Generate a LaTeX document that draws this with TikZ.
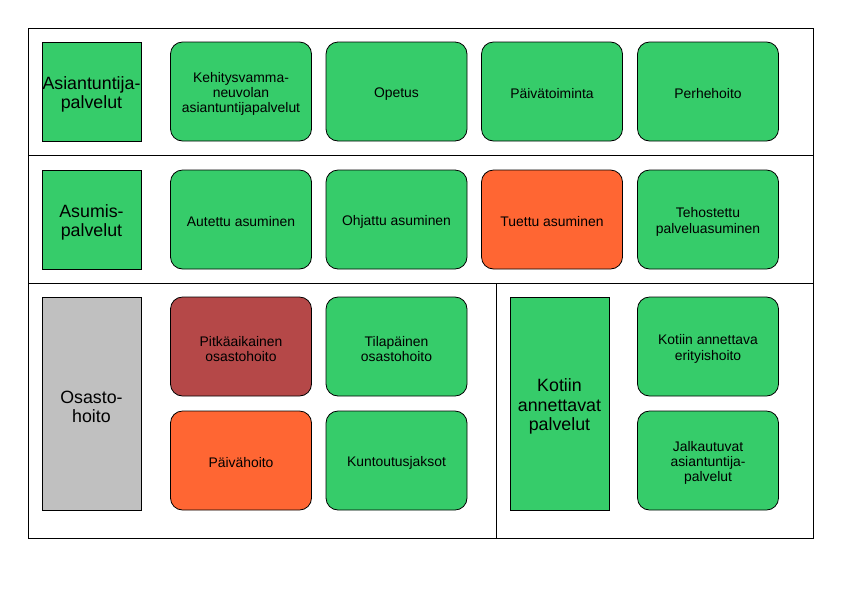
\documentclass[tikz,border=0pt]{standalone}
\usepackage{fontspec}
\setmainfont{Liberation Sans}
\definecolor{grn}{RGB}{54,204,106}
\definecolor{org}{RGB}{255,102,51}
\definecolor{drd}{RGB}{181,72,72}
\definecolor{gry}{RGB}{192,192,192}
\begin{document}
\begin{tikzpicture}[x=1pt,y=-1pt,
  frame/.style={draw=black,line width=0.9pt},
  head/.style={draw=black,line width=0.8pt,fill=grn,rectangle,inner sep=0pt,align=center,
     font=\fontsize{17.8}{19.5}\selectfont,minimum width=99pt},
  item/.style={draw=black,line width=0.8pt,fill=grn,rectangle,rounded corners=12pt,inner sep=0pt,align=center,
     font=\fontsize{13.9}{15.3}\selectfont,minimum width=141pt,minimum height=99pt}]
\useasboundingbox (0,0) rectangle (842,595);
% frame
\draw[frame] (28,28) rectangle (813,538);
\draw[frame] (28,155) -- (813,155);
\draw[frame] (28,283) -- (813,283);
\draw[frame] (496,283) -- (496,538);
% row 1
\node[head,minimum height=99pt] (ap) at (91.5,91.5) {\rule{0pt}{19pt}Asiantuntija-\\palvelut};
\node[item] (k1) at (241,91.5) {\rule{0pt}{15pt}Kehitysvamma-\\neuvolan\\asiantuntijapalvelut};
\node[item] (k2) at (396.5,91.5) {\rule{0pt}{15pt}Opetus};
\node[item] (k3) at (552,91.5) {\rule{0pt}{15pt}Päivätoiminta};
\node[item] (k4) at (708,91.5) {\rule{0pt}{15pt}Perhehoito};
% row 2
\node[head,minimum height=99pt] (as) at (91.5,219.5) {\rule{0pt}{19pt}Asumis-\\palvelut};
\node[item] (a1) at (241,219.5) {\rule{0pt}{15pt}Autettu asuminen};
\node[item] (a2) at (396.5,219.5) {\rule{0pt}{15pt}Ohjattu asuminen};
\node[item,fill=org] (a3) at (552,219.5) {\rule{0pt}{15pt}Tuettu asuminen};
\node[item] (a4) at (708,219.5) {\rule{0pt}{15pt}Tehostettu\\palveluasuminen};
% row 3
\node[head,fill=gry,minimum height=213pt] (os) at (91.5,403.5) {\rule{0pt}{19pt}Osasto-\\hoito};
\node[item,fill=drd] (o1) at (241,346.5) {\rule{0pt}{15pt}Pitkäaikainen\\osastohoito};
\node[item] (o2) at (396.5,346.5) {\rule{0pt}{15pt}Tilapäinen\\osastohoito};
\node[item,fill=org] (o3) at (241,460.5) {\rule{0pt}{15pt}Päivähoito};
\node[item] (o4) at (396.5,460.5) {\rule{0pt}{15pt}Kuntoutusjaksot};
\node[head,minimum height=213pt] (ko) at (559.5,403.5) {\rule{0pt}{19pt}Kotiin\\annettavat\\palvelut};
\node[item] (h1) at (708,346.5) {\rule{0pt}{15pt}Kotiin annettava\\erityishoito};
\node[item] (h2) at (708,460.5) {\rule{0pt}{15pt}Jalkautuvat\\asiantuntija-\\palvelut};
\end{tikzpicture}
\end{document}
